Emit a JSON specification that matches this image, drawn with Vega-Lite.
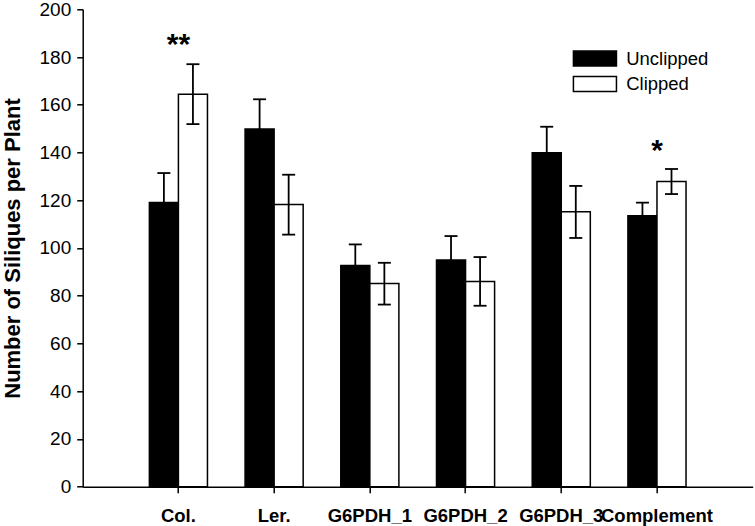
{
  "$schema": "https://vega.github.io/schema/vega-lite/v6.json",
  "width": 670,
  "height": 477.4,
  "autosize": {"type": "none"},
  "padding": {"left": 82.7, "top": 9.3, "right": 2, "bottom": 40},
  "config": {
    "view": {"stroke": null},
    "font": "Liberation Sans",
    "axis": {"domainColor": "black", "tickColor": "black", "labelColor": "black", "titleColor": "black", "grid": false}
  },
  "datasets": {
    "bars": [
      {"genotype": "Col.", "treatment": "Unclipped", "mean": 119.1, "lo": 106.8, "hi": 131.4},
      {"genotype": "Col.", "treatment": "Clipped", "mean": 164.4, "lo": 151.9, "hi": 177.0},
      {"genotype": "Ler.", "treatment": "Unclipped", "mean": 149.9, "lo": 137.5, "hi": 162.3},
      {"genotype": "Ler.", "treatment": "Clipped", "mean": 118.2, "lo": 105.6, "hi": 130.7},
      {"genotype": "G6PDH_1", "treatment": "Unclipped", "mean": 92.7, "lo": 83.9, "hi": 101.5},
      {"genotype": "G6PDH_1", "treatment": "Clipped", "mean": 85.1, "lo": 76.3, "hi": 93.8},
      {"genotype": "G6PDH_2", "treatment": "Unclipped", "mean": 95.0, "lo": 85.0, "hi": 105.0},
      {"genotype": "G6PDH_2", "treatment": "Clipped", "mean": 86.0, "lo": 75.8, "hi": 96.2},
      {"genotype": "G6PDH_3", "treatment": "Unclipped", "mean": 139.9, "lo": 129.0, "hi": 150.8},
      {"genotype": "G6PDH_3", "treatment": "Clipped", "mean": 115.2, "lo": 104.2, "hi": 126.0},
      {"genotype": "Complement", "treatment": "Unclipped", "mean": 113.5, "lo": 108.0, "hi": 119.0},
      {"genotype": "Complement", "treatment": "Clipped", "mean": 127.9, "lo": 122.6, "hi": 133.1}
    ],
    "stars": [
      {"genotype": "Col.", "label": "**", "pos": 185},
      {"genotype": "Complement", "label": "*", "pos": 140.5}
    ]
  },
  "encoding": {
    "x": {
      "field": "genotype", "type": "nominal",
      "sort": ["Col.", "Ler.", "G6PDH_1", "G6PDH_2", "G6PDH_3", "Complement"],
      "scale": {"paddingInner": 0.393, "paddingOuter": 0.6965},
      "axis": {"title": null, "labelAngle": 0, "labelFontSize": 18.5, "labelFontWeight": "bold", "labelPadding": 14, "tickSize": 6, "tickWidth": 1.5, "domainWidth": 1.5, "labelOverlap": false, "labelBound": false}
    }
  },
  "layer": [
    {
      "data": {"name": "bars"},
      "mark": {"type": "bar", "stroke": "black", "strokeWidth": 1.5},
      "encoding": {
        "xOffset": {"field": "treatment", "type": "nominal", "sort": ["Unclipped", "Clipped"], "scale": {"paddingInner": 0, "paddingOuter": 0}},
        "y": {
          "field": "mean", "type": "quantitative",
          "scale": {"domain": [0, 200], "nice": false},
          "axis": {"title": "Number of Siliques per Plant", "titleFontSize": 22, "titleFontWeight": "bold", "titlePadding": 15, "values": [0, 20, 40, 60, 80, 100, 120, 140, 160, 180, 200], "labelFontSize": 19, "labelPadding": 6, "tickSize": 6, "tickWidth": 1.5, "domainWidth": 1.5}
        },
        "fill": {
          "field": "treatment", "type": "nominal", "sort": ["Unclipped", "Clipped"],
          "scale": {"domain": ["Unclipped", "Clipped"], "range": ["black", "white"]},
          "legend": {"title": null, "orient": "none", "legendX": 503, "legendY": 40, "padding": 0, "labelFontSize": 18.5, "labelOffset": 22, "labelColor": "black", "symbolType": "M-2.87,-1H2.87V1H-2.87Z", "symbolSize": 225, "symbolStrokeColor": "black", "symbolStrokeWidth": 1.5, "rowPadding": 3.5}
        }
      }
    },
    {
      "data": {"name": "bars"},
      "mark": {"type": "rule", "color": "black", "strokeWidth": 1.8},
      "encoding": {
        "xOffset": {"field": "treatment", "type": "nominal", "sort": ["Unclipped", "Clipped"]},
        "y": {"field": "lo", "type": "quantitative"},
        "y2": {"field": "hi"}
      }
    },
    {
      "data": {"name": "bars"},
      "mark": {"type": "tick", "color": "black", "thickness": 1.8, "size": 13, "opacity": 1},
      "encoding": {
        "xOffset": {"field": "treatment", "type": "nominal", "sort": ["Unclipped", "Clipped"]},
        "y": {"field": "hi", "type": "quantitative"}
      }
    },
    {
      "data": {"name": "bars"},
      "mark": {"type": "tick", "color": "black", "thickness": 1.8, "size": 13, "opacity": 1},
      "encoding": {
        "xOffset": {"field": "treatment", "type": "nominal", "sort": ["Unclipped", "Clipped"]},
        "y": {"field": "lo", "type": "quantitative"}
      }
    },
    {
      "data": {"name": "stars"},
      "mark": {"type": "text", "fontSize": 30, "fontWeight": "bold", "baseline": "middle", "align": "center", "color": "black"},
      "encoding": {
        "y": {"field": "pos", "type": "quantitative"},
        "text": {"field": "label"}
      }
    }
  ]
}
